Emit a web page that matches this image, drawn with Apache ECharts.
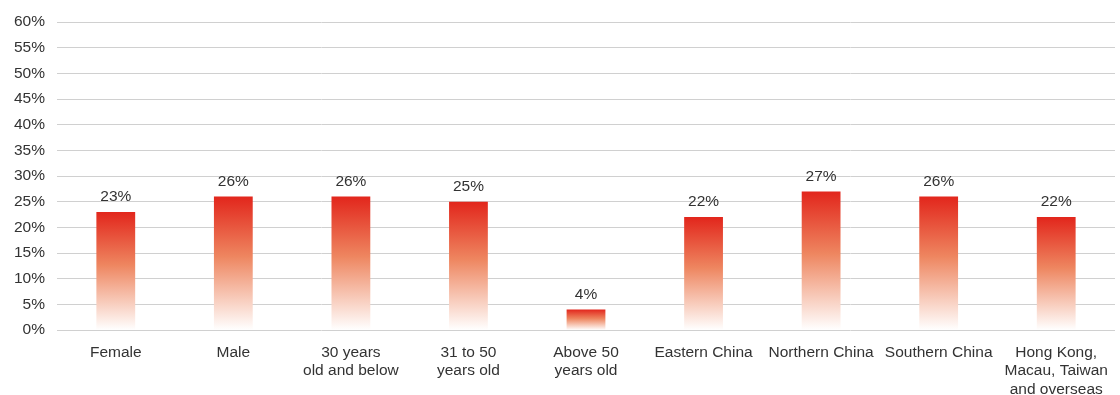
<!DOCTYPE html>
<html><head><meta charset="utf-8">
<script src="https://cdn.jsdelivr.net/npm/echarts@6/dist/echarts.min.js"></script>
<style>html,body{margin:0;padding:0;background:#fff}#c{width:1120px;height:395px}</style>
</head><body><div id="c"></div>
<script>
var categories = ['Female','Male','30 years\nold and below','31 to 50\nyears old','Above 50\nyears old','Eastern China','Northern China','Southern China','Hong Kong,\nMacau, Taiwan\nand overseas'];
var values = [23,26,26,25,4,22,27,26,22];
var yTicks = [0,5,10,15,20,25,30,35,40,45,50,55,60];
var chart = echarts.init(document.getElementById('c'));
var font = '"Liberation Sans", Arial, Helvetica, sans-serif';
chart.setOption({
  animation:false,
  grid:{left:57,right:5,top:22,bottom:65,containLabel:false,outerBoundsMode:'none'},
  xAxis:{type:'category',data:categories,
    axisLine:{show:false},axisTick:{show:false},
    axisLabel:{interval:0,color:'#333',fontSize:15.5,fontFamily:font,margin:13,lineHeight:18.5}},
  yAxis:{type:'value',min:yTicks[0],max:yTicks[yTicks.length-1],interval:5,
    axisLine:{show:false},axisTick:{show:false},
    splitLine:{lineStyle:{color:'#d0d0d0',width:1}},
    axisLabel:{formatter:'{value}%',color:'#333',fontSize:15.5,fontFamily:font,margin:12}},
  series:[{type:'bar',data:values,barWidth:'33%',
    itemStyle:{color:new echarts.graphic.LinearGradient(0,0,0,1,[
      {offset:0,color:'#e2261c'},{offset:0.45,color:'#ee8660'},{offset:1,color:'#ffffff'}])},
    label:{show:true,position:'top',distance:7,formatter:'{c}%',color:'#333',fontSize:15.5,fontFamily:font}}]
});
</script></body></html>
